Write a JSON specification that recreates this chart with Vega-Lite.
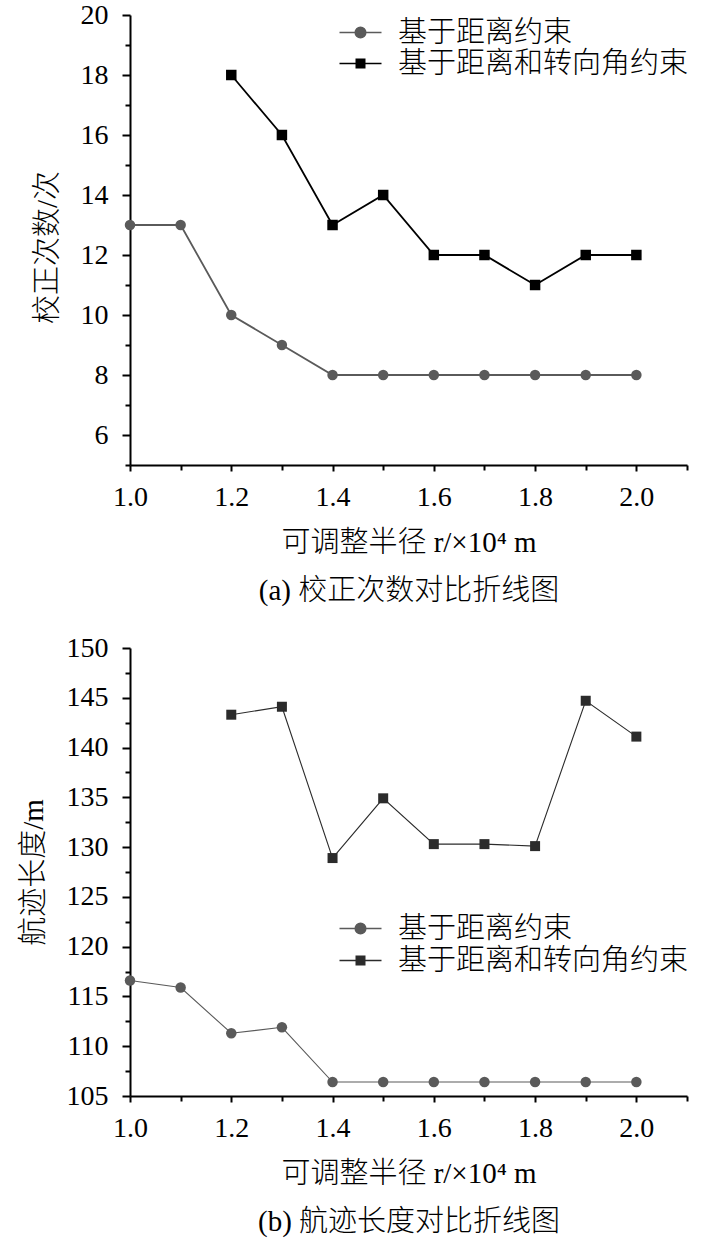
{
  "$schema": "https://vega.github.io/schema/vega-lite/v6.json",
  "background": "white",
  "padding": {"left": 19, "top": 1, "right": 12, "bottom": 4},
  "spacing": 29,
  "resolve": {"scale": {"color": "independent"}, "legend": {"color": "independent"}},
  "datasets": {
    "a": [
      {"r": 1.0, "series": "基于距离约束", "value": 13},
      {"r": 1.1, "series": "基于距离约束", "value": 13},
      {"r": 1.2, "series": "基于距离约束", "value": 10},
      {"r": 1.3, "series": "基于距离约束", "value": 9},
      {"r": 1.4, "series": "基于距离约束", "value": 8},
      {"r": 1.5, "series": "基于距离约束", "value": 8},
      {"r": 1.6, "series": "基于距离约束", "value": 8},
      {"r": 1.7, "series": "基于距离约束", "value": 8},
      {"r": 1.8, "series": "基于距离约束", "value": 8},
      {"r": 1.9, "series": "基于距离约束", "value": 8},
      {"r": 2.0, "series": "基于距离约束", "value": 8},
      {"r": 1.2, "series": "基于距离和转向角约束", "value": 18},
      {"r": 1.3, "series": "基于距离和转向角约束", "value": 16},
      {"r": 1.4, "series": "基于距离和转向角约束", "value": 13},
      {"r": 1.5, "series": "基于距离和转向角约束", "value": 14},
      {"r": 1.6, "series": "基于距离和转向角约束", "value": 12},
      {"r": 1.7, "series": "基于距离和转向角约束", "value": 12},
      {"r": 1.8, "series": "基于距离和转向角约束", "value": 11},
      {"r": 1.9, "series": "基于距离和转向角约束", "value": 12},
      {"r": 2.0, "series": "基于距离和转向角约束", "value": 12}
    ],
    "b": [
      {"r": 1.0, "series": "基于距离约束", "value": 116.6},
      {"r": 1.1, "series": "基于距离约束", "value": 115.9},
      {"r": 1.2, "series": "基于距离约束", "value": 111.3},
      {"r": 1.3, "series": "基于距离约束", "value": 111.9},
      {"r": 1.4, "series": "基于距离约束", "value": 106.4},
      {"r": 1.5, "series": "基于距离约束", "value": 106.4},
      {"r": 1.6, "series": "基于距离约束", "value": 106.4},
      {"r": 1.7, "series": "基于距离约束", "value": 106.4},
      {"r": 1.8, "series": "基于距离约束", "value": 106.4},
      {"r": 1.9, "series": "基于距离约束", "value": 106.4},
      {"r": 2.0, "series": "基于距离约束", "value": 106.4},
      {"r": 1.2, "series": "基于距离和转向角约束", "value": 143.3},
      {"r": 1.3, "series": "基于距离和转向角约束", "value": 144.1},
      {"r": 1.4, "series": "基于距离和转向角约束", "value": 128.9},
      {"r": 1.5, "series": "基于距离和转向角约束", "value": 134.9},
      {"r": 1.6, "series": "基于距离和转向角约束", "value": 130.3},
      {"r": 1.7, "series": "基于距离和转向角约束", "value": 130.3},
      {"r": 1.8, "series": "基于距离和转向角约束", "value": 130.1},
      {"r": 1.9, "series": "基于距离和转向角约束", "value": 144.7},
      {"r": 2.0, "series": "基于距离和转向角约束", "value": 141.1}
    ]
  },
  "config": {
    "view": {"stroke": null},
    "axis": {
      "grid": false,
      "domainColor": "#000",
      "domainWidth": 2,
      "tickColor": "#000",
      "tickWidth": 2,
      "labelFont": "Liberation Serif",
      "labelFontSize": 28,
      "labelColor": "#000",
      "titleFont": "Liberation Serif, Noto Sans CJK SC",
      "titleFontSize": 29,
      "titleFontWeight": 300,
      "titleColor": "#000",
      "titleLimit": 0,
      "labelFlush": false,
      "labelOverlap": false
    },
    "legend": {
      "labelFont": "Noto Sans CJK SC",
      "labelFontSize": 29,
      "labelFontWeight": 300,
      "labelColor": "#000",
      "labelLimit": 0,
      "padding": 0
    }
  },
  "vconcat": [
    {
      "width": 557,
      "height": 450,
      "data": {"name": "a"},
      "encoding": {
        "x": {
          "field": "r", "type": "quantitative",
          "scale": {"domain": [1.0, 2.1], "nice": false, "zero": false},
          "axis": {
            "values": [1.0, 1.1, 1.2, 1.3, 1.4, 1.5, 1.6, 1.7, 1.8, 1.9, 2.0, 2.1],
            "labelExpr": "round(datum.value*10) % 2 == 0 ? format(datum.value, '.1f') : ''",
            "tickSize": {"condition": {"test": "round(datum.value*10) % 2 == 1", "value": 5}, "value": 6},
            "labelPadding": 12,
            "title": ["可调整半径  r/×10⁴ m", "(a) 校正次数对比折线图"],
            "titleLineHeight": 48,
            "titlePadding": 17
          }
        },
        "y": {
          "field": "value", "type": "quantitative",
          "scale": {"domain": [5, 20], "nice": false, "zero": false},
          "axis": {
            "values": [5, 6, 7, 8, 9, 10, 11, 12, 13, 14, 15, 16, 17, 18, 19, 20],
            "labelExpr": "datum.value % 2 == 0 ? datum.value : ''",
            "tickSize": {"condition": {"test": "datum.value % 2 == 1", "value": 5}, "value": 8},
            "labelPadding": 14,
            "title": "校正次数/次",
            "titlePadding": 18,
            "titleY": 232
          }
        },
        "color": {
          "field": "series", "type": "nominal",
          "scale": {"domain": ["基于距离约束", "基于距离和转向角约束"], "range": ["#5a5a5a", "#000000"]},
          "legend": {
            "orient": "none", "legendX": 216, "legendY": 3, "title": null,
            "symbolSize": 441, "symbolStrokeWidth": 1.6, "rowPadding": 1, "labelOffset": 23,
            "symbolOpacity": 1,
            "encode": {
              "symbols": {
                "update": {
                  "shape": {"signal": "datum.value === '基于距离约束' ? 'M-2,0L2,0M0.5,0A0.5,0.5,0,1,1,-0.5,0A0.5,0.5,0,1,1,0.5,0Z' : 'M-2,0L2,0M-0.4,-0.4H0.4V0.4H-0.4Z'"},
                  "fill": {"signal": "datum.value === '基于距离约束' ? '#5a5a5a' : '#000000'"},
                  "stroke": {"signal": "datum.value === '基于距离约束' ? '#5a5a5a' : '#000000'"},
                  "opacity": {"value": 1}
                }
              }
            }
          }
        }
      },
      "layer": [
        {"mark": {"type": "line", "strokeWidth": 1.8}},
        {
          "transform": [{"filter": "datum.series === '基于距离约束'"}],
          "mark": {"type": "point", "filled": true, "opacity": 1, "shape": "circle", "size": 110}
        },
        {
          "transform": [{"filter": "datum.series === '基于距离和转向角约束'"}],
          "mark": {"type": "point", "filled": true, "opacity": 1, "shape": "square", "size": 110}
        }
      ]
    },
    {
      "width": 557,
      "height": 448,
      "data": {"name": "b"},
      "encoding": {
        "x": {
          "field": "r", "type": "quantitative",
          "scale": {"domain": [1.0, 2.1], "nice": false, "zero": false},
          "axis": {
            "values": [1.0, 1.1, 1.2, 1.3, 1.4, 1.5, 1.6, 1.7, 1.8, 1.9, 2.0, 2.1],
            "labelExpr": "round(datum.value*10) % 2 == 0 ? format(datum.value, '.1f') : ''",
            "tickSize": {"condition": {"test": "round(datum.value*10) % 2 == 1", "value": 5}, "value": 6},
            "labelPadding": 12,
            "title": ["可调整半径  r/×10⁴ m", "(b) 航迹长度对比折线图"],
            "titleLineHeight": 48,
            "titlePadding": 17
          }
        },
        "y": {
          "field": "value", "type": "quantitative",
          "scale": {"domain": [105, 150], "nice": false, "zero": false},
          "axis": {
            "values": [105, 107.5, 110, 112.5, 115, 117.5, 120, 122.5, 125, 127.5, 130, 132.5, 135, 137.5, 140, 142.5, 145, 147.5, 150],
            "labelExpr": "datum.value % 5 == 0 ? datum.value : ''",
            "tickSize": {"condition": {"test": "datum.value % 5 != 0", "value": 5}, "value": 8},
            "labelPadding": 14,
            "title": "航迹长度/m",
            "titlePadding": 18
          }
        },
        "color": {
          "field": "series", "type": "nominal",
          "scale": {"domain": ["基于距离约束", "基于距离和转向角约束"], "range": ["#5a5a5a", "#2b2b2b"]},
          "legend": {
            "orient": "none", "legendX": 216, "legendY": 266, "title": null,
            "symbolSize": 441, "symbolStrokeWidth": 1.6, "rowPadding": 2, "labelOffset": 23,
            "symbolOpacity": 1,
            "encode": {
              "symbols": {
                "update": {
                  "shape": {"signal": "datum.value === '基于距离约束' ? 'M-2,0L2,0M0.5,0A0.5,0.5,0,1,1,-0.5,0A0.5,0.5,0,1,1,0.5,0Z' : 'M-2,0L2,0M-0.4,-0.4H0.4V0.4H-0.4Z'"},
                  "fill": {"signal": "datum.value === '基于距离约束' ? '#5a5a5a' : '#000000'"},
                  "stroke": {"signal": "datum.value === '基于距离约束' ? '#5a5a5a' : '#000000'"},
                  "opacity": {"value": 1}
                }
              }
            }
          }
        }
      },
      "layer": [
        {"mark": {"type": "line", "strokeWidth": 1.1}},
        {
          "transform": [{"filter": "datum.series === '基于距离约束'"}],
          "mark": {"type": "point", "filled": true, "opacity": 1, "shape": "circle", "size": 110}
        },
        {
          "transform": [{"filter": "datum.series === '基于距离和转向角约束'"}],
          "mark": {"type": "point", "filled": true, "opacity": 1, "shape": "square", "size": 100}
        }
      ]
    }
  ]
}
